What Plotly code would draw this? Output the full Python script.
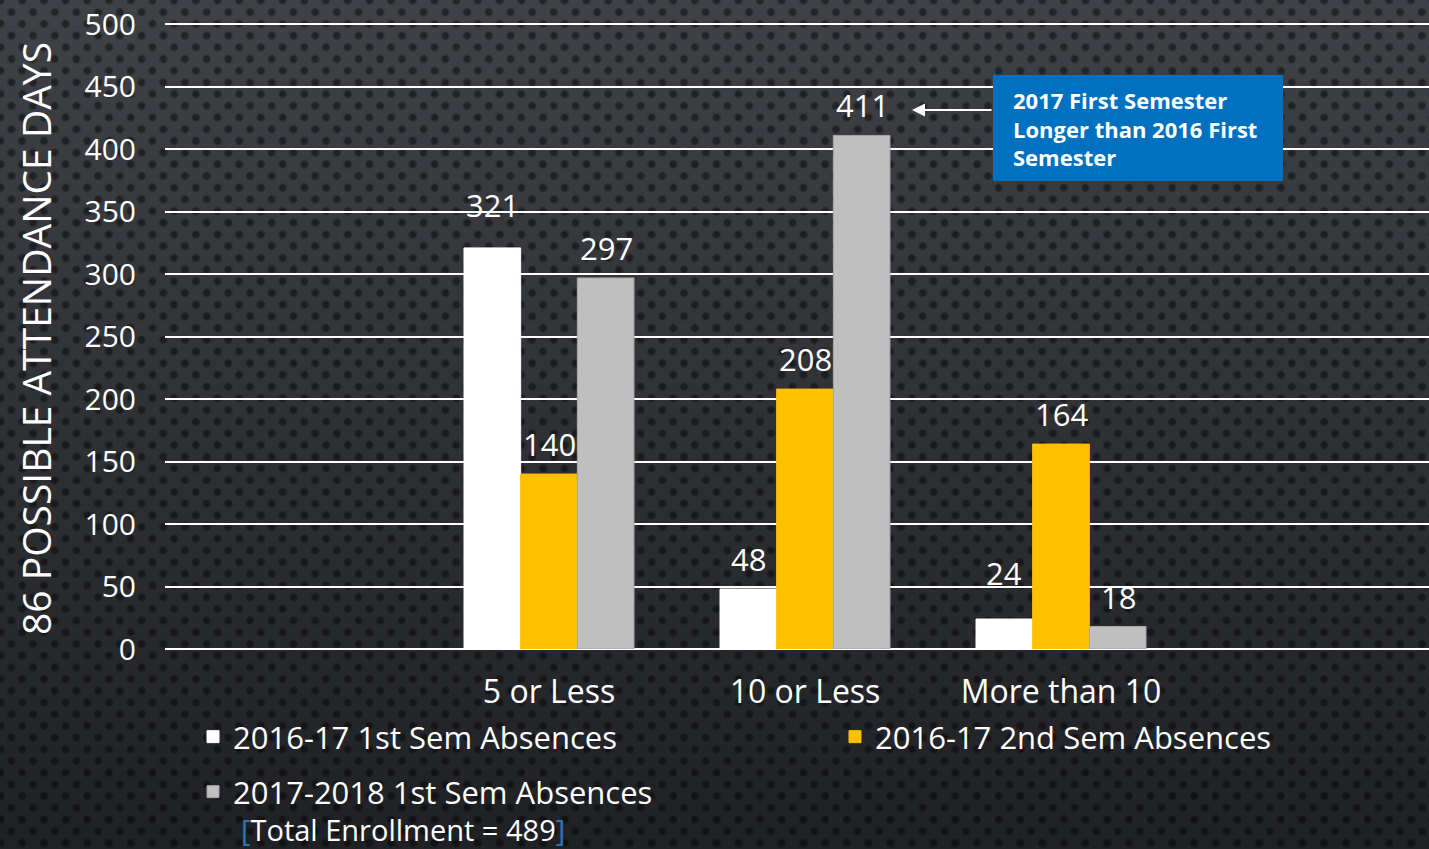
import base64
import struct
import zlib

import numpy as np
import plotly.graph_objects as go

# --- Data ---
categories = ["5 or Less", "10 or Less", "More than 10"]
sem1_1617 = [321, 48, 24]
sem2_1617 = [140, 208, 164]
sem1_1718 = [297, 411, 18]
series_names = ["2016-17 1st Sem Absences", "2016-17 2nd Sem Absences", "2017-2018 1st Sem Absences"]
y_ticks = [0, 50, 100, 150, 200, 250, 300, 350, 400, 450, 500]

# --- Style ---
W, H = 1429, 849
FONT = "Open Sans, Lato, sans-serif"
WHITE = "#FFFFFF"
YELLOW = "#FFC000"
GRAY = "#BFBFBF"
BOX_BLUE = "#0070C0"
PLOT_L, PLOT_T, PLOT_B = 165, 23, 649
BAR_PX = 57          # pixel width of one bar in a group
LABEL_LIFT = 30      # label centre above bar top, px
# a couple of labels sit higher in the original slide
LABEL_NUDGE = {(0, 0): 13, (0, 2): 16}


def px_x(x):
    return (x - PLOT_L) / (W - PLOT_L)


def px_y(y):
    return (PLOT_B - y) / (PLOT_B - PLOT_T)


# --- Background: dark gradient with perforated dot pattern, built as a png ---
def make_background():
    yy, xx = np.mgrid[0:H, 0:W].astype(float)
    t = (yy / (H - 1))[..., None]
    top = np.array([64, 66, 71], float)
    bot = np.array([32, 33, 36], float)
    base = top * (1 - t) + bot * t
    sy, sx = 11.7, 21.7
    row = np.round(yy / sy)
    off = (row % 2) * sx / 2
    cx = np.round((xx - off) / sx) * sx + off
    cy = row * sy
    d = np.hypot(xx - cx, yy - cy)
    dark = np.clip(1 - (d - 2.5) / 2.5, 0, 1)[..., None]
    img = base * (1 - 0.45 * dark)
    img = np.clip(img, 0, 255).astype(np.uint8)
    raw = b"".join(b"\x00" + img[i].tobytes() for i in range(H))

    def chunk(tag, data):
        c = struct.pack(">I", len(data)) + tag + data
        return c + struct.pack(">I", zlib.crc32(tag + data) & 0xFFFFFFFF)

    png = b"\x89PNG\r\n\x1a\n"
    png += chunk(b"IHDR", struct.pack(">IIBBBBB", W, H, 8, 2, 0, 0, 0))
    png += chunk(b"IDAT", zlib.compress(raw, 9))
    png += chunk(b"IEND", b"")
    return "data:image/png;base64," + base64.b64encode(png).decode()


fig = go.Figure()

series = [
    (series_names[0], sem1_1617, WHITE, WHITE),
    (series_names[1], sem2_1617, YELLOW, YELLOW),
    (series_names[2], sem1_1718, GRAY, "#A6A6A6"),
]
legend_ids = ["legend", "legend2", "legend3"]
value_labels = []
for i, (name, vals, color, edge) in enumerate(series):
    fig.add_trace(go.Bar(
        name=name,
        x=categories,
        y=vals,
        marker=dict(color=color, line=dict(color=edge, width=1)),
        legend=legend_ids[i],
        showlegend=True,
        hovertemplate="%{x}: %{y}<extra>" + name + "</extra>",
    ))
    # value labels above each bar
    for j, (cat, v) in enumerate(zip(categories, vals)):
        value_labels.append(dict(
            text=str(v), x=cat, y=v, xref="x", yref="y",
            xshift=(i - 1) * BAR_PX,
            yshift=LABEL_LIFT + LABEL_NUDGE.get((i, j), 0),
            showarrow=False, yanchor="middle",
            font=dict(size=31, color=WHITE),
        ))

leg_style = dict(
    orientation="h", xanchor="left", yanchor="middle",
    bgcolor="rgba(0,0,0,0)", font=dict(size=31, color=WHITE),
    itemclick=False, itemdoubleclick=False,
)

fig.update_layout(
    width=W,
    height=H,
    margin=dict(l=PLOT_L, r=0, t=PLOT_T, b=H - PLOT_B),
    paper_bgcolor="#2a2b2e",
    plot_bgcolor="rgba(0,0,0,0)",
    font=dict(family=FONT, color=WHITE, size=30),
    showlegend=True,
    barmode="group",
    bargap=0.336,
    bargroupgap=0,
    xaxis=dict(
        type="category",
        range=[-1.5, 3.4375],
        showgrid=False,
        showline=False,
        ticks="",
        ticklabelstandoff=21,
        tickfont=dict(size=32, color=WHITE),
        fixedrange=True,
    ),
    yaxis=dict(
        range=[0, 501],
        tickvals=y_ticks,
        showgrid=True,
        gridcolor=WHITE,
        gridwidth=2,
        zeroline=True,
        zerolinecolor=WHITE,
        zerolinewidth=2,
        showline=False,
        ticks="",
        ticklabelstandoff=28,
        tickfont=dict(size=30, color=WHITE),
        fixedrange=True,
    ),
    legend=dict(x=px_x(193), y=px_y(737), **leg_style),
    legend2=dict(x=px_x(835), y=px_y(737), **leg_style),
    legend3=dict(x=px_x(193), y=px_y(792), **leg_style),
    images=[dict(
        source=make_background(),
        xref="paper", yref="paper",
        x=px_x(0), y=px_y(0),
        sizex=W / (W - PLOT_L), sizey=H / (PLOT_B - PLOT_T),
        xanchor="left", yanchor="top",
        sizing="stretch",
        layer="below",
    )],
    shapes=[dict(
        type="rect", xref="paper", yref="paper",
        x0=px_x(993), x1=px_x(1283), y0=px_y(181), y1=px_y(75),
        fillcolor=BOX_BLUE, line=dict(width=0), layer="above",
    )],
    annotations=value_labels + [
        dict(
            text="86 POSSIBLE ATTENDANCE DAYS",
            xref="paper", yref="paper",
            x=px_x(35), y=px_y(339),
            xanchor="center", yanchor="middle",
            textangle=-90, showarrow=False,
            font=dict(size=39, color=WHITE),
        ),
        dict(
            text="<b>2017 First Semester<br>Longer than 2016 First<br>Semester</b>",
            xref="paper", yref="paper",
            x=px_x(1011), y=px_y(128),
            xanchor="left", yanchor="middle",
            align="left", showarrow=False,
            font=dict(size=22, color=WHITE),
        ),
        dict(
            text="",
            xref="paper", yref="paper",
            x=px_x(912), y=px_y(110),
            ax=81, ay=0,
            showarrow=True, arrowhead=2, arrowsize=1.3,
            arrowwidth=2, arrowcolor=WHITE,
        ),
        dict(
            text="<span style='color:#2E75B6'>[</span>Total Enrollment = 489"
                 "<span style='color:#2E75B6'>]</span>",
            xref="paper", yref="paper",
            x=px_x(240), y=px_y(829),
            xanchor="left", yanchor="middle",
            showarrow=False, borderpad=0,
            font=dict(size=29, color=WHITE),
        ),
    ],
)

fig.write_html(
    "out.html",
    config={"displayModeBar": False},
    post_script="document.body.style.margin='0';document.body.style.overflow='hidden';",
)
